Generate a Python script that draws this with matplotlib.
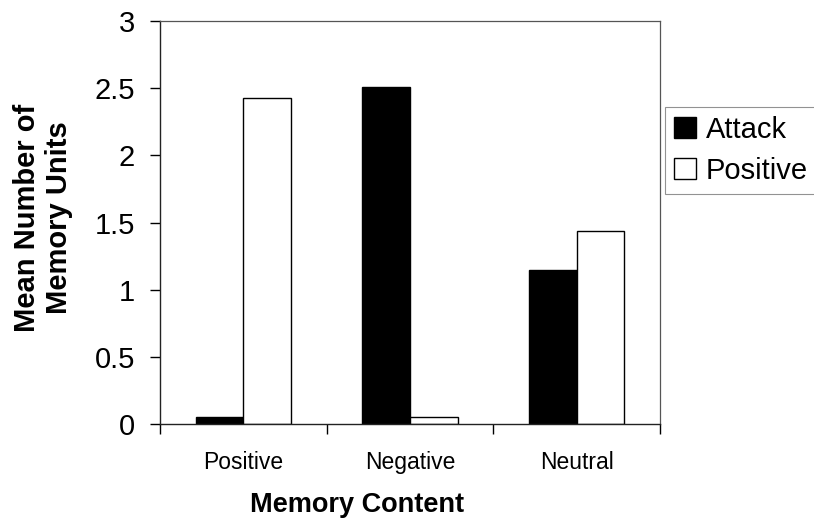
import matplotlib
matplotlib.use("Agg")
import matplotlib.pyplot as plt
import numpy as np

plt.rcParams['font.family'] = ['Liberation Sans', 'DejaVu Sans']

categories = ["Positive", "Negative", "Neutral"]
attack = [0.05, 2.51, 1.15]
positive = [2.43, 0.05, 1.44]
series_names = ["Attack", "Positive"]
yticks = [0, 0.5, 1, 1.5, 2, 2.5, 3]
ytick_labels = ["0", "0.5", "1", "1.5", "2", "2.5", "3"]

fig = plt.figure(figsize=(8.14, 5.25), dpi=100)
ax = fig.add_axes([160 / 814, 101 / 525, 500 / 814, 403 / 525])

x = np.arange(len(categories))
w = 0.286
ax.bar(x - w / 2, attack, w, color="black", edgecolor="black", linewidth=1.0, label=series_names[0])
ax.bar(x + w / 2, positive, w, color="white", edgecolor="black", linewidth=1.0, label=series_names[1])

ax.set_xlim(-0.5, 2.5)
ax.set_ylim(0, 3)
ax.set_yticks(yticks)
ax.set_yticklabels(ytick_labels, fontsize=21)
ax.set_xticks([-0.5, 0.5, 1.5, 2.5])
ax.set_xticklabels([])
ax.tick_params(axis="y", direction="out", length=7, width=1, pad=11)
ax.tick_params(axis="x", direction="out", length=7, width=1)
for i, c in enumerate(categories):
    ax.text(i, -0.2, c, ha="center", va="top", fontsize=16.5, transform=ax.transData)

for s in ["left", "bottom"]:
    ax.spines[s].set_linewidth(1.0)
    ax.spines[s].set_color("#222222")
for s in ["top", "right"]:
    ax.spines[s].set_linewidth(0.9)
    ax.spines[s].set_color("#555555")

fig.text(357 / 814, 1 - 505 / 525, "Memory Content", ha="center", va="center",
         fontsize=19.5, fontweight="bold")
fig.text(43 / 814, 1 - 218 / 525, "Mean Number of\nMemory Units", ha="center", va="center",
         rotation=90, fontsize=21, fontweight="bold", linespacing=1.2)

leg = ax.legend(loc="upper left", bbox_to_anchor=(665 / 814, 1 - 107 / 525),
                bbox_transform=fig.transFigure, fontsize=21, frameon=True, fancybox=False,
                handlelength=0.75, handleheight=0.75, handletextpad=0.35, borderpad=0.3,
                labelspacing=0.45, borderaxespad=0)
leg.get_frame().set_edgecolor("#777777")
leg.get_frame().set_linewidth(0.8)

fig.savefig("out.png", dpi=100)
